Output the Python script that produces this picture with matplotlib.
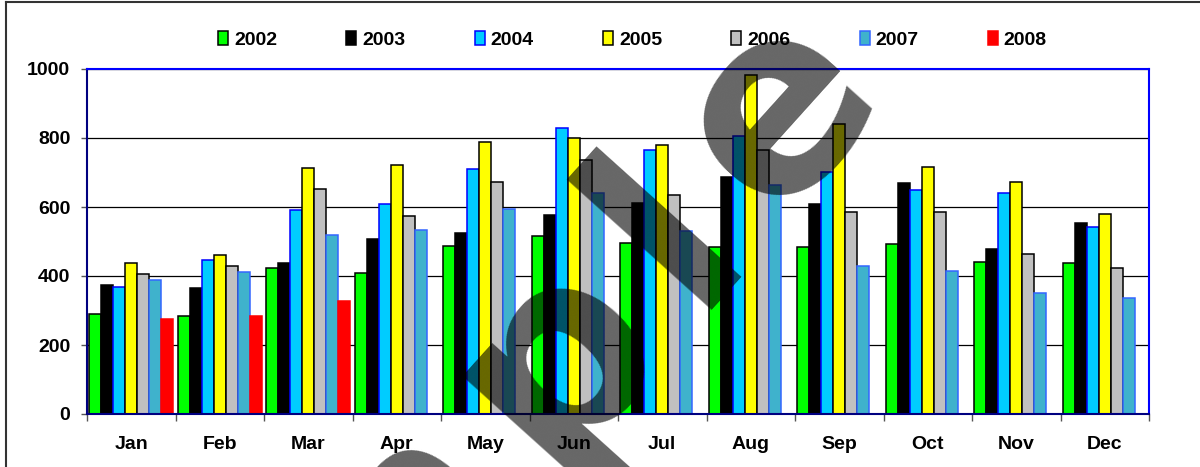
import matplotlib
matplotlib.use("Agg")
import matplotlib.pyplot as plt
import numpy as np
from matplotlib.lines import Line2D
from matplotlib.font_manager import FontProperties
from matplotlib.textpath import TextToPath

months = ["Jan", "Feb", "Mar", "Apr", "May", "Jun", "Jul", "Aug", "Sep", "Oct", "Nov", "Dec"]
years = ["2002", "2003", "2004", "2005", "2006", "2007", "2008"]

v2002 = [289, 284, 422, 410, 488, 515, 497, 483, 483, 493, 442, 437]
v2003 = [374, 364, 438, 506, 525, 576, 613, 688, 609, 670, 479, 554]
v2004 = [367, 445, 591, 608, 709, 828, 765, 805, 701, 648, 641, 543]
v2005 = [437, 461, 713, 723, 787, 800, 779, 983, 840, 715, 673, 581]
v2006 = [405, 428, 653, 575, 673, 737, 636, 765, 585, 585, 465, 424]
v2007 = [387, 411, 520, 533, 594, 640, 529, 664, 428, 414, 350, 336]
v2008 = [276, 285, 327, np.nan, np.nan, np.nan, np.nan, np.nan, np.nan, np.nan, np.nan, np.nan]

series = [v2002, v2003, v2004, v2005, v2006, v2007, v2008]
faces = ["#00ff00", "#000000", "#00ccff", "#ffff00", "#c0c0c0", "#3fb2cc", "#ff0000"]
edges = ["#000000", "#000000", "#0000ff", "#000000", "#000000", "#3366ff", "#ff0000"]

plt.rcParams['font.family'] = ['Liberation Sans', 'DejaVu Sans']
FS = 14

W, H = 1200, 467
fig = plt.figure(figsize=(W / 100, H / 100), dpi=100)
ax = fig.add_axes([87 / W, 1 - 414 / H, (1149 - 87) / W, (414 - 69) / H])

x = np.arange(len(months))
w = 0.135
for i, (vals, fc, ec, yr) in enumerate(zip(series, faces, edges, years)):
    ax.bar(x + (i - 3) * w, vals, width=w, color=fc, edgecolor=ec, linewidth=1.1,
           label=yr, zorder=3)

ax.set_xlim(-0.5, 11.5)
ax.set_ylim(0, 1000)
ax.set_yticks([0, 200, 400, 600, 800, 1000])
ax.yaxis.grid(True, color="#000000", linewidth=0.9, zorder=0)
ax.set_axisbelow(True)

ax.set_xticks(x)
ax.set_xticklabels(months, fontsize=FS, fontweight='bold')
ax.set_xticks(np.arange(-0.5, 12.0, 1.0), minor=True)
ax.tick_params(axis='x', which='major', length=0, pad=15.5)
ax.tick_params(axis='x', which='minor', length=5, color='#555555', width=1)
ax.tick_params(axis='y', length=4.5, color='#555555', width=1, pad=7.5, labelsize=FS)
for lab in ax.get_yticklabels():
    lab.set_fontweight('bold')

ax.spines['left'].set_color('#000080')
ax.spines['bottom'].set_color('#000080')
ax.spines['top'].set_color('#0000ff')
ax.spines['right'].set_color('#0000ff')
for s in ax.spines.values():
    s.set_linewidth(1.5)
    s.set_zorder(4)

handles, labels = ax.get_legend_handles_labels()
fig.legend(handles, labels, loc='center', bbox_to_anchor=(632.6 / W, 1 - 40 / H),
           ncol=7, frameon=False, handlelength=0.51, handleheight=0.72,
           handletextpad=0.31, columnspacing=3.56,
           prop={'weight': 'bold', 'size': FS})

# outer frame (top and left)
fig.add_artist(Line2D([6 / W, 1.0], [1 - 2 / H, 1 - 2 / H], color='#333333', linewidth=1.5,
                      transform=fig.transFigure))
fig.add_artist(Line2D([6 / W, 6 / W], [0, 1 - 2 / H], color='#333333', linewidth=1.5,
                      transform=fig.transFigure))

# watermark "Sample", laid out letter by letter along a rotated baseline
wm_word = "Sample"
wm_pt = 184
wm_rot = 48.0
wm_track = 33.5  # px of extra spacing between letters
wm_prop = FontProperties(family='DejaVu Sans', weight='bold', size=wm_pt)
t2p = TextToPath()
adv = [t2p.get_text_width_height_descent(c, wm_prop, ismath=False)[0] * 100 / 72 for c in wm_word]
ux, uy = np.cos(np.radians(wm_rot)), -np.sin(np.radians(wm_rot))
p0 = np.array([546.0, 471.0])  # baseline origin of the letter "p" in pixels
ip = wm_word.index("p")
starts = [0.0] * len(wm_word)
for k in range(ip - 1, -1, -1):
    starts[k] = starts[k + 1] - (adv[k] + wm_track)
for k in range(ip + 1, len(wm_word)):
    starts[k] = starts[k - 1] + (adv[k - 1] + wm_track)
for c, t in zip(wm_word, starts):
    px, py = p0[0] + t * ux, p0[1] + t * uy
    fig.text(px / W, 1 - py / H, c, fontproperties=wm_prop, color='black', alpha=0.6,
             rotation=wm_rot, rotation_mode='anchor', ha='left', va='baseline', zorder=10)

fig.savefig("out.png", dpi=100)
